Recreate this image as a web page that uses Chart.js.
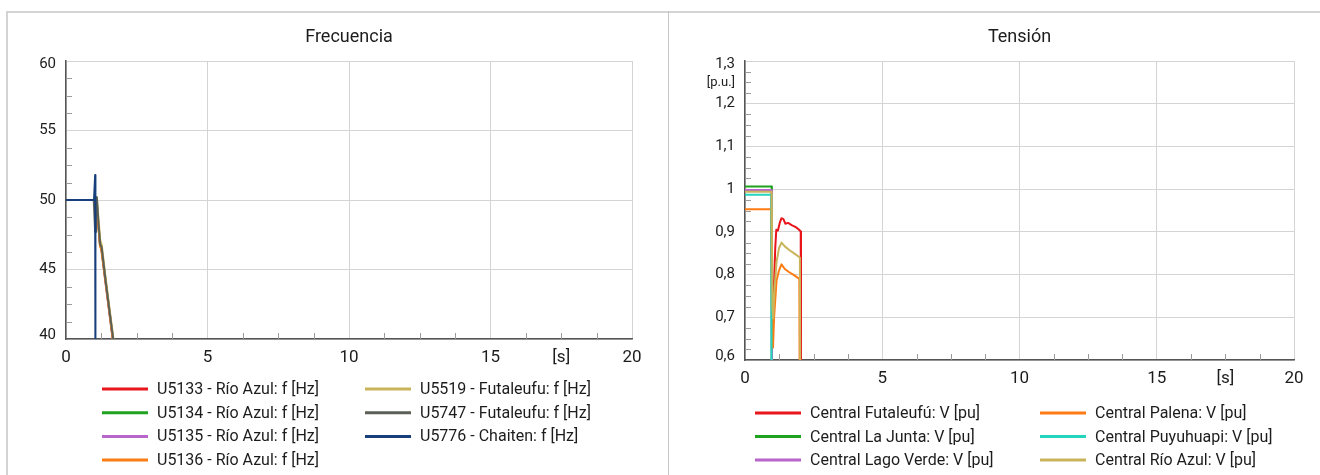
<!DOCTYPE html>
<html>
<head>
<meta charset="utf-8">
<script src="https://cdn.jsdelivr.net/npm/chart.js@4.4.1/dist/chart.umd.min.js"></script>
<style>
  html, body { margin: 0; padding: 0; background: #fff; }
  #wrap { position: relative; width: 1320px; height: 475px; overflow: hidden; background: #fff; }
  .rule { position: absolute; background: #d4d4d4; }
  canvas { position: absolute; top: 0; }
</style>
</head>
<body>
<div id="wrap">
  <div class="rule" style="left:6px;top:11px;width:1314px;height:2px"></div>
  <div class="rule" style="left:6px;top:11px;width:2px;height:464px"></div>
  <div class="rule" style="left:668px;top:11px;width:1px;height:464px;background:#c6c6c6"></div>
  <canvas id="freqChart" width="668" height="475" style="left:0"></canvas>
  <canvas id="voltChart" width="652" height="475" style="left:668px"></canvas>
</div>
<script>
// ---- Axis ticks and labels ----
const timeTickValues = [0, 5, 10, 15, 17.5, 20];
const timeTickLabels = ['0', '5', '10', '15', '[s]', '20'];
const timeGridValues = [0, 5, 10, 15, 20];

const freqTickValues = [40, 45, 50, 55, 60];
const freqTickLabels = ['40', '45', '50', '55', '60'];

const voltTickValues = [0.6, 0.7, 0.8, 0.9, 1.0, 1.1, 1.2, 1.25, 1.3];
const voltTickLabels = ['0,6', '0,7', '0,8', '0,9', '1', '1,1', '1,2', '[p.u.]', '1,3'];
const voltGridValues = [0.6, 0.7, 0.8, 0.9, 1.0, 1.1, 1.2, 1.3];

// ---- Frecuencia: series names, times [s] and values [Hz] ----
const freqNames = [
  'U5133 - Río Azul: f [Hz]',
  'U5134 - Río Azul: f [Hz]',
  'U5135 - Río Azul: f [Hz]',
  'U5136 - Río Azul: f [Hz]',
  'U5519 - Futaleufu: f [Hz]',
  'U5747 - Futaleufu: f [Hz]',
  'U5776 - Chaiten: f [Hz]'
];
const tRioAzul   = [0, 0.98, 1.02, 1.05, 1.08, 1.14, 1.20, 1.25, 1.40, 1.55, 1.70];
const fU5133     = [50, 50, 49.7, 49.9, 50.1, 48.4, 46.9, 46.6, 44.2, 41.8, 39.4];
const fU5134     = [50, 50, 49.6, 49.9, 50.0, 48.3, 46.8, 46.5, 44.1, 41.7, 39.3];
const fU5135     = [50, 50, 49.6, 49.8, 50.0, 48.3, 46.8, 46.5, 44.0, 41.6, 39.2];
const fU5136     = [50, 50, 49.5, 49.8, 50.0, 48.2, 46.7, 46.4, 44.0, 41.6, 39.2];
const tFutaleufu = [0, 0.98, 1.03, 1.06, 1.09, 1.15, 1.21, 1.26, 1.40, 1.55, 1.72];
const fU5519     = [50, 50, 49.8, 50.0, 50.2, 48.6, 47.1, 46.8, 44.4, 42.0, 39.3];
const fU5747     = [50, 50, 47.7, 49.9, 50.2, 48.3, 46.8, 46.6, 44.2, 41.8, 39.2];
const tChaiten   = [0, 0.99, 1.03, 1.04];
const fU5776     = [50, 50, 51.8, 38];

// ---- Tensión: series names, times [s] and values [pu] ----
const voltNames = [
  'Central Futaleufú: V [pu]',
  'Central La Junta: V [pu]',
  'Central Lago Verde: V [pu]',
  'Central Palena: V [pu]',
  'Central Puyuhuapi: V [pu]',
  'Central Río Azul: V [pu]'
];
const tFutaleufuV = [0, 0.97, 1.00, 1.05, 1.10, 1.14, 1.20, 1.27, 1.33, 1.40, 1.47, 1.57, 1.70, 1.85, 1.95, 2.03, 2.04];
const vFutaleufu  = [0.996, 0.996, 0.68, 0.75, 0.86, 0.905, 0.903, 0.922, 0.932, 0.930, 0.919, 0.921, 0.916, 0.911, 0.906, 0.901, 0.35];
const tLaJunta    = [0, 0.97, 0.98];
const vLaJunta    = [1.006, 1.006, 0.30];
const tLagoVerde  = [0, 0.97, 0.98];
const vLagoVerde  = [0.998, 0.998, 0.30];
const tPalena     = [0, 0.95, 0.98, 1.02, 1.06, 1.15, 1.24, 1.33, 1.45, 1.60, 1.80, 1.98, 2.00];
const vPalena     = [0.953, 0.953, 0.72, 0.629, 0.70, 0.786, 0.810, 0.824, 0.813, 0.806, 0.798, 0.790, 0.35];
const tPuyuhuapi  = [0, 0.96, 0.965];
const vPuyuhuapi  = [0.987, 0.987, 0.30];
const tRioAzulV   = [0, 0.97, 1.00, 1.03, 1.08, 1.15, 1.24, 1.33, 1.45, 1.60, 1.80, 2.00, 2.02];
const vRioAzul    = [0.994, 0.994, 0.72, 0.697, 0.77, 0.83, 0.862, 0.875, 0.866, 0.858, 0.849, 0.840, 0.35];

// ---- Styling ----
const freqColors = ['#e8151b', '#1fa31f', '#b865cc', '#f77d14', '#c9b45a', '#5b6056', '#173f7c'];
const voltColors = ['#e8151b', '#1fa31f', '#b865cc', '#ff7b13', '#25d4bd', '#c9b45a'];
const FONT = 'Roboto, "Liberation Sans", sans-serif';
const TEXT = '#1c1c1c';

function points(ts, vs) { return ts.map((t, i) => ({ x: t, y: vs[i] })); }
function near(list, v) { return list.findIndex(a => Math.abs(a - v) < 1e-6); }

function makeDatasets(names, colors, series) {
  return names.map((name, i) => ({
    label: name,
    data: points(series[i][0], series[i][1]),
    borderColor: colors[i],
    backgroundColor: colors[i],
    borderWidth: 2,
    pointRadius: 0,
    tension: 0,
    fill: false,
    order: names.length - i
  }));
}

// Title, inward minor ticks and the two-column legend
const decor = {
  id: 'decor',
  beforeDatasetsDraw(chart, args, o) {
    const { ctx, chartArea: a } = chart;
    const xs = chart.scales.x, ys = chart.scales.y;
    ctx.save();
    ctx.strokeStyle = '#9a9a9a';
    ctx.lineWidth = 1;
    ctx.beginPath();
    xs.ticks.forEach(t => {
      if (near(o.xGrid, t.value) >= 0) return;
      const px = Math.round(xs.getPixelForValue(t.value)) + 0.5;
      ctx.moveTo(px, a.bottom);
      ctx.lineTo(px, a.bottom - 6);
    });
    ys.ticks.forEach(t => {
      if (near(o.yGrid, t.value) >= 0) return;
      const py = Math.round(ys.getPixelForValue(t.value)) + 0.5;
      ctx.moveTo(a.left, py);
      ctx.lineTo(a.left + 6, py);
    });
    ctx.stroke();
    ctx.restore();
  },
  afterDraw(chart, args, o) {
    const { ctx, chartArea: a } = chart;
    ctx.save();
    ctx.fillStyle = TEXT;
    ctx.font = '18px ' + FONT;
    ctx.textAlign = 'center';
    ctx.textBaseline = 'middle';
    ctx.fillText(o.title, (a.left + a.right) / 2, o.titleY);

    ctx.font = '16px ' + FONT;
    ctx.textAlign = 'left';
    const ds = chart.data.datasets;
    const rows = o.rows;
    ds.forEach((d, i) => {
      const col = Math.floor(i / rows), row = i % rows;
      const x = o.colX[col], y = o.rowY0 + row * o.rowGap;
      ctx.strokeStyle = d.borderColor;
      ctx.lineWidth = 3;
      ctx.beginPath();
      ctx.moveTo(x, y);
      ctx.lineTo(x + o.swatch, y);
      ctx.stroke();
      ctx.fillStyle = TEXT;
      ctx.fillText(d.label, x + o.swatch + 9, y + 1);
    });
    ctx.restore();
  }
};

function axisX(gridVals, height) {
  return {
    type: 'linear', min: 0, max: 20,
    afterFit: s => { s.height = height; },
    grid: {
      drawTicks: false,
      color: c => near(gridVals, c.tick.value) >= 0 ? '#d4d4d4' : 'rgba(0,0,0,0)',
      lineWidth: 1
    },
    border: { color: '#555', width: 1.5 },
    ticks: {
      stepSize: 1.25, autoSkip: false, maxRotation: 0, padding: 9,
      color: TEXT, font: { family: FONT, size: 17 },
      callback: v => { const k = near(timeTickValues, v); return k >= 0 ? timeTickLabels[k] : ''; }
    }
  };
}

// The end labels of a value axis sit slightly inside the axis range:
// the top one a little lower, the bottom one a little higher.
function axisY(min, max, step, gridVals, tickVals, tickLabels, width) {
  return {
    type: 'linear', min, max,
    afterFit: s => { s.width = width; },
    grid: {
      drawTicks: false,
      color: c => near(gridVals, c.tick.value) >= 0 ? '#d4d4d4' : 'rgba(0,0,0,0)',
      lineWidth: 1
    },
    border: { color: '#555', width: 1.5 },
    ticks: {
      stepSize: step, autoSkip: false, padding: 10,
      color: TEXT,
      font: c => {
        const v = c.tick ? c.tick.value : NaN;
        const k = near(tickVals, v);
        const unit = k >= 0 && tickLabels[k].startsWith('[');
        let lh = 1.2;
        if (Math.abs(v - max) < 1e-6) lh = 0.4;
        if (Math.abs(v - min) < 1e-6) lh = 0.53;
        return { family: FONT, size: unit ? 13 : 15, lineHeight: lh };
      },
      callback: v => {
        const k = near(tickVals, v);
        if (k < 0) return '';
        if (Math.abs(v - max) < 1e-6) return ['', tickLabels[k]];
        if (Math.abs(v - min) < 1e-6) return [tickLabels[k], ''];
        return tickLabels[k];
      }
    }
  };
}

const common = {
  responsive: false, animation: false,
  plugins: { legend: { display: false }, tooltip: { enabled: false } },
  elements: { line: { borderJoinStyle: 'round' } }
};

new Chart(document.getElementById('freqChart'), {
  type: 'line',
  data: {
    datasets: makeDatasets(freqNames, freqColors, [
      [tRioAzul, fU5133], [tRioAzul, fU5134], [tRioAzul, fU5135], [tRioAzul, fU5136],
      [tFutaleufu, fU5519], [tFutaleufu, fU5747], [tChaiten, fU5776]
    ])
  },
  options: Object.assign({}, common, {
    layout: { padding: { top: 61, right: 36, left: 0, bottom: 0 } },
    scales: {
      x: axisX(timeGridValues, 136),
      y: axisY(40, 60, 1.25, freqTickValues, freqTickValues, freqTickLabels, 66)
    },
    plugins: Object.assign({}, common.plugins, {
      decor: { title: 'Frecuencia', titleY: 37, xGrid: timeGridValues, yGrid: freqTickValues,
               rows: 4, colX: [102, 365], rowY0: 389, rowGap: 23.7, swatch: 46 }
    })
  }),
  plugins: [decor]
});

new Chart(document.getElementById('voltChart'), {
  type: 'line',
  data: {
    datasets: makeDatasets(voltNames, voltColors, [
      [tFutaleufuV, vFutaleufu], [tLaJunta, vLaJunta], [tLagoVerde, vLagoVerde],
      [tPalena, vPalena], [tPuyuhuapi, vPuyuhuapi], [tRioAzulV, vRioAzul]
    ])
  },
  options: Object.assign({}, common, {
    layout: { padding: { top: 61, right: 26, left: 0, bottom: 0 } },
    scales: {
      x: axisX(timeGridValues, 115),
      y: axisY(0.6, 1.3, 0.025, voltGridValues, voltTickValues, voltTickLabels, 77)
    },
    plugins: Object.assign({}, common.plugins, {
      decor: { title: 'Tensión', titleY: 37, xGrid: timeGridValues, yGrid: voltGridValues,
               rows: 3, colX: [87, 372], rowY0: 413, rowGap: 23.5, swatch: 46 }
    })
  }),
  plugins: [decor]
});
</script>
</body>
</html>
